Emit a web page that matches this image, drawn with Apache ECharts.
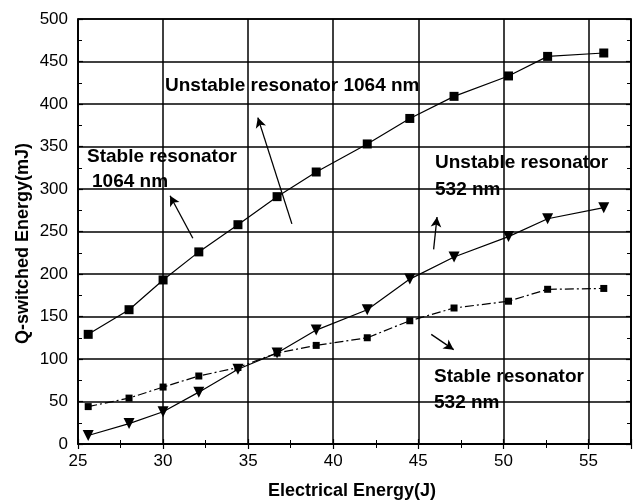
<!DOCTYPE html>
<html>
<head>
<meta charset="utf-8">
<script src="https://cdn.jsdelivr.net/npm/echarts@6/dist/echarts.min.js"></script>
<style>html,body{margin:0;padding:0;background:#fff}#c{width:640px;height:504px}</style>
</head>
<body>
<div id="c"></div>
<script>
// Electrical energy (J)
const energy = [25.6, 28.0, 30.0, 32.1, 34.4, 36.7, 39.0, 42.0, 44.5, 47.1, 50.3, 52.6, 55.9];
// Q-switched energy (mJ)
const unstable1064 = [129, 158, 193, 226, 258, 291, 320, 353, 383, 409, 433, 456, 460];
const unstable532  = [10, 24, 38, 61, 88, 107, 134, 158, 194, 220, 244, 265, 278];
const stable532    = [44, 54, 67, 80, 90, 107, 116, 125, 145, 160, 168, 182, 183];
const xTicks = [25, 30, 35, 40, 45, 50, 55];
const yTicks = [0, 50, 100, 150, 200, 250, 300, 350, 400, 450, 500];

const pair = (ys) => energy.map((x, i) => [x, ys[i]]);
const FONT = '"Liberation Sans", Arial, sans-serif';
const chart = echarts.init(document.getElementById('c'));

const axisCommon = {
  axisLine: { show: true, lineStyle: { color: '#000', width: 1.5 } },
  axisTick: { show: true, inside: true, length: 5, lineStyle: { color: '#000', width: 1.2 } },
  minorTick: { show: true, splitNumber: 2, length: 4, lineStyle: { color: '#000', width: 1 } },
};

function arrow(a, b) {
  return [{ coord: a }, { coord: b }];
}

chart.setOption({
  animation: false,
  backgroundColor: '#fff',
  grid: { left: 78, right: 9, top: 19, bottom: 60, show: true, borderColor: '#000', borderWidth: 1.5 },
  xAxis: [
    Object.assign({}, axisCommon, {
      type: 'value', min: 25, max: 57.5, interval: 5,
      axisLabel: { color: '#000', fontFamily: FONT, fontSize: 17, margin: 9, showMaxLabel: false,
        formatter: v => (xTicks.indexOf(v) >= 0 ? String(v) : '') },
      splitLine: { show: true, lineStyle: { color: '#000', width: 1.5 } },
    }),
    Object.assign({}, axisCommon, {
      type: 'value', min: 25, max: 57.5, interval: 5, position: 'top',
      axisLabel: { show: false }, splitLine: { show: false },
    }),
  ],
  yAxis: [
    Object.assign({}, axisCommon, {
      type: 'value', min: 0, max: 500, interval: 50,
      axisLabel: { color: '#000', fontFamily: FONT, fontSize: 17, margin: 10,
        formatter: v => (yTicks.indexOf(v) >= 0 ? String(v) : '') },
      splitLine: { show: true, lineStyle: { color: '#000', width: 1.5 } },
    }),
    Object.assign({}, axisCommon, {
      type: 'value', min: 0, max: 500, interval: 50, position: 'right',
      axisLabel: { show: false }, splitLine: { show: false },
    }),
  ],
  series: [
    {
      name: 'Unstable resonator 1064 nm', type: 'line', data: pair(unstable1064),
      symbol: 'rect', symbolSize: 9,
      itemStyle: { color: '#000' }, lineStyle: { color: '#000', width: 1.2 },
      markLine: {
        silent: true, symbol: ['none', 'arrow'], symbolSize: [8, 10],
        label: { show: false },
        lineStyle: { color: '#000', width: 1.3, type: 'solid' },
        data: [
          arrow([31.75, 242], [30.41, 292]),
          arrow([37.57, 259], [35.57, 384]),
          arrow([45.9, 229], [46.1, 267]),
          arrow([45.76, 129], [47.08, 111]),
        ],
      },
    },
    {
      name: 'Unstable resonator 532 nm', type: 'line', data: pair(unstable532),
      symbol: 'triangle', symbolRotate: 180, symbolSize: 11,
      itemStyle: { color: '#000' }, lineStyle: { color: '#000', width: 1.2 },
    },
    {
      name: 'Stable resonator 532 nm', type: 'line', data: pair(stable532),
      symbol: 'rect', symbolSize: 7,
      itemStyle: { color: '#000' }, lineStyle: { color: '#000', width: 1.2, type: [9, 3, 2, 3] },
    },
  ],
  graphic: [
    { type: 'text', x: 165, y: 86, style: { text: 'Unstable resonator 1064 nm', font: 'bold 19px ' + FONT, fill: '#000', verticalAlign: 'middle' } },
    { type: 'text', x: 87, y: 157, style: { text: 'Stable resonator', font: 'bold 19px ' + FONT, fill: '#000', verticalAlign: 'middle' } },
    { type: 'text', x: 92, y: 182, style: { text: '1064 nm', font: 'bold 19px ' + FONT, fill: '#000', verticalAlign: 'middle' } },
    { type: 'text', x: 435, y: 163, style: { text: 'Unstable resonator', font: 'bold 19px ' + FONT, fill: '#000', verticalAlign: 'middle' } },
    { type: 'text', x: 435, y: 190, style: { text: '532 nm', font: 'bold 19px ' + FONT, fill: '#000', verticalAlign: 'middle' } },
    { type: 'text', x: 434, y: 377, style: { text: 'Stable resonator', font: 'bold 19px ' + FONT, fill: '#000', verticalAlign: 'middle' } },
    { type: 'text', x: 434, y: 403, style: { text: '532 nm', font: 'bold 19px ' + FONT, fill: '#000', verticalAlign: 'middle' } },
    { type: 'text', x: 352, y: 491, style: { text: 'Electrical Energy(J)', font: 'bold 18px ' + FONT, fill: '#000', align: 'center', verticalAlign: 'middle' } },
    { type: 'text', x: 23.5, y: 243.5, rotation: Math.PI / 2, style: { text: 'Q-switched Energy(mJ)', font: 'bold 18px ' + FONT, fill: '#000', align: 'center', verticalAlign: 'middle' } },
  ],
});
</script>
</body>
</html>
